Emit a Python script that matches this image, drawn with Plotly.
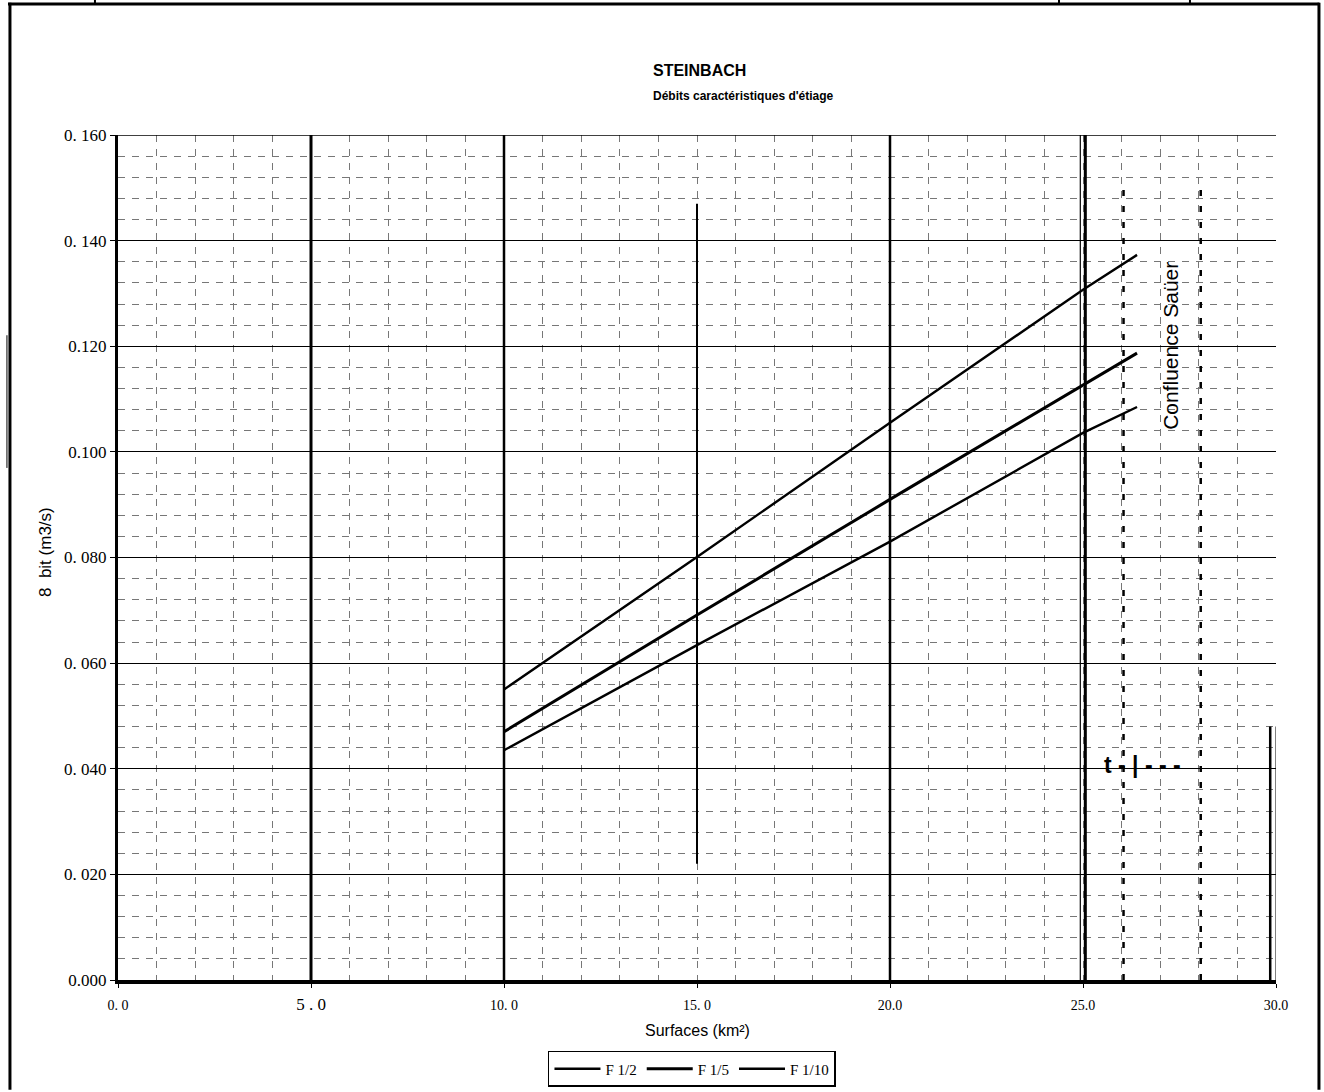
import plotly.graph_objects as go

# ---- data ----
surface_km2 = [10.0, 15.0, 20.0, 25.0, 26.4]
f_1_2 = [0.0550, 0.0801, 0.1055, 0.1307, 0.1373]
f_1_5 = [0.0470, 0.0691, 0.0910, 0.1127, 0.1187]
f_1_10 = [0.0435, 0.0634, 0.0830, 0.1036, 0.1085]
series_names = ["F 1/2", "F 1/5", "F 1/10"]

x_tickvals = [0, 5, 10, 15, 20, 25, 30]
x_ticktext = ["0. 0", "<span style='font-size:17px'>5 . 0</span>", "10. 0", "15. 0",
              "20.0", "25.0", "30.0"]
y_tickvals = [0.0, 0.02, 0.04, 0.06, 0.08, 0.10, 0.12, 0.14, 0.16]
y_ticktext = ["0.000", "0. 020", "0. 040", "0. 060", "0. 080", "0.100", "0.120", "0. 140", "0. 160"]

SERIF = "Liberation Serif, Times New Roman, serif"
SANS = "Liberation Sans, Arial, sans-serif"

fig = go.Figure()
widths = [2.4, 3.0, 2.4]
for name, ys, w in zip(series_names, [f_1_2, f_1_5, f_1_10], widths):
    fig.add_trace(go.Scatter(x=surface_km2, y=ys, mode="lines", name=name,
                             line=dict(color="black", width=w)))

shapes = []
def vline(x, y0, y1, w, dash="solid", color="black", ref="x"):
    shapes.append(dict(type="line", xref=ref, yref="y" if ref == "x" else "paper",
                       x0=x, x1=x, y0=y0, y1=y1,
                       line=dict(color=color, width=w, dash=dash), layer="above"))

vline(5, 0, 0.16, 3)
vline(10, 0, 0.16, 2.5)
vline(15, 0.022, 0.147, 2)
vline(20, 0, 0.16, 2.5)
vline(24.93, 0, 0.16, 1.2)
vline(25.06, 0, 0.16, 3)
vline(26.05, 0.0, 0.15, 2.5, dash="6px,10px")
vline(28.05, 0.0, 0.15, 2.5, dash="6px,10px")
vline(29.85, 0, 0.048, 2.5)
vline(30.0, 0, 0.048, 1)
vline(-0.08, 0.099, 0.121, 1)
# top border of plot
shapes.append(dict(type="line", xref="x", yref="y", x0=0, x1=30, y0=0.16, y1=0.16,
                   line=dict(color="black", width=1.5)))
# page frame (scanned document border)
shapes.append(dict(type="line", xref="paper", yref="paper", x0=-0.095, x1=1.0375,
                   y0=1.1550, y1=1.1550, line=dict(color="black", width=3)))
vline(-0.0933, -0.13, 1.1565, 3, ref="paper")
vline(1.0371, -0.13, 1.1565, 3, ref="paper")
for px in (-0.0199, 0.8126, 0.9257):
    vline(px, 1.1550, 1.1598, 2, ref="paper")
# scan artifact on left margin
vline(-0.0959, 0.606, 0.763, 1, ref="paper")

annotations = [
    dict(text="<b>STEINBACH</b>", xref="paper", yref="paper", x=0.4603, y=1.0, yshift=65,
         xanchor="left", yanchor="middle", showarrow=False,
         font=dict(family=SANS, size=16, color="black")),
    dict(text="<b>Débits caractéristiques d'étiage</b>", xref="paper", yref="paper",
         x=0.4603, y=1.0, yshift=39, xanchor="left", yanchor="middle", showarrow=False,
         font=dict(family=SANS, size=12, color="black")),
    dict(text="8  bit (m3/s)", xref="paper", yref="paper", x=0, y=0.5065, xshift=-73,
         xanchor="center", yanchor="middle",
         textangle=-90, showarrow=False, font=dict(family=SANS, size=17, color="black")),
    dict(text="Surfaces (km²)", xref="paper", yref="paper", x=0.5, y=0, yshift=-50,
         xanchor="center", yanchor="middle",
         showarrow=False, font=dict(family=SANS, size=16, color="black")),
    dict(text="Confluence Saüer", xref="x", yref="y", x=27.27, y=0.120, textangle=-90,
         xanchor="center", yanchor="middle",
         showarrow=False, font=dict(family=SANS, size=21, color="black")),
    dict(text="<b>t - | - - -</b>", xref="x", yref="y", x=25.49, y=0.0407, xanchor="left",
         yanchor="middle", showarrow=False, font=dict(family=SANS, size=23, color="black")),
]

fig.update_layout(
    width=1324, height=1092,
    margin=dict(l=118, r=48, t=135, b=112, autoexpand=False),
    paper_bgcolor="white", plot_bgcolor="white",
    showlegend=True,
    legend=dict(orientation="h", x=0.3713, xanchor="left", y=-0.1053, yanchor="middle",
                bordercolor="black", borderwidth=1.5, bgcolor="white",
                font=dict(family=SERIF, size=15, color="black"),
                itemwidth=46, tracegroupgap=0),
    shapes=shapes, annotations=annotations,
    xaxis=dict(range=[0, 30], tickvals=x_tickvals, ticktext=x_ticktext,
               showgrid=False, zeroline=False, showline=True, linecolor="black",
               linewidth=3.5, ticks="outside", ticklen=4, tickcolor="black",
               ticklabelstandoff=5, automargin=False,
               tickfont=dict(family=SERIF, size=14, color="black"),
               minor=dict(dtick=1, tick0=0, showgrid=True, gridcolor="#777",
                          griddash="7px,7px", gridwidth=1)),
    yaxis=dict(range=[0, 0.16], tickvals=y_tickvals, ticktext=y_ticktext,
               showgrid=True, gridcolor="black", gridwidth=1, zeroline=False,
               showline=True, linecolor="black", linewidth=3, ticks="outside",
               ticklen=5, tickcolor="black", automargin=False,
               tickfont=dict(family=SERIF, size=17, color="black"),
               minor=dict(dtick=0.004, tick0=0, showgrid=True, gridcolor="#777",
                          griddash="7px,7px", gridwidth=1)),
)

fig.write_html("out.html", config={"displayModeBar": False},
               post_script="document.body.style.margin='0';document.body.style.overflow='hidden';")
